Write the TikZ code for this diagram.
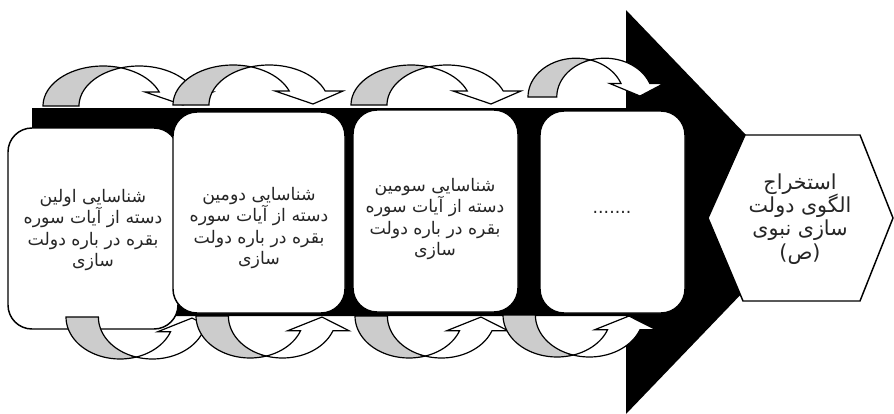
\documentclass[tikz,border=0pt]{standalone}
\usepackage{fontspec}
\setmainfont{DejaVu Sans}
\newfontfamily\arabicfont[Script=Arabic]{DejaVu Sans}
\TeXXeTstate=1
\definecolor{bandgray}{RGB}{204,204,204}
\tikzset{
  box/.style={draw=black, line width=1.1pt, fill=white, rounded corners=18pt, inner sep=0pt},
  lbl/.style={align=center, font=\arabicfont\fontsize{13}{15.8}\selectfont, text=black!85, inner sep=0pt},
  band/.style={draw=black, line width=0.9pt, fill=bandgray},
  face/.style={draw=black, line width=0.9pt, fill=white},
}
\newcommand\ribbonarrow{%
  \filldraw[band] plot[domain=180:287.5,samples=25] ({60+60*cos(\x)},{40*sin(\x)})
     -- plot[domain=252.5:180,samples=25] ({96+60*cos(\x)},{40*sin(\x)}) -- cycle;
  \filldraw[face] plot[domain=252.5:339.5,samples=25] ({96+60*cos(\x)},{40*sin(\x)})
     -- (170,-14) -- (140,-1) -- (102,-14)
     -- plot[domain=339.5:287.5,samples=25] ({60+60*cos(\x)},{40*sin(\x)}) -- cycle;
}
\begin{document}
\setlength{\lineskiplimit}{-30pt}
\begin{tikzpicture}[x=0.75pt,y=-0.75pt]
\useasboundingbox (0,0) rectangle (894,414);
% big black arrow
\fill[black] (32,108) -- (626,108) -- (626,10) -- (820,212) -- (626,414) -- (626,316) -- (32,316) -- cycle;
% boxes
\node[box, minimum width=127.5pt, minimum height=150.75pt] (b1) at (93,228.5) {};
\node[box, minimum width=129pt, minimum height=150.75pt] (b2) at (259,212.5) {};
\node[box, minimum width=123.75pt, minimum height=151.5pt] (b3) at (435.5,211) {};
\node[box, minimum width=108.75pt, minimum height=151.5pt] (b4) at (612.5,212) {};
% hexagon
\filldraw[draw=black, line width=1.1pt, fill=white] (745,135) -- (860,135) -- (893,218) -- (860,301) -- (743,301) -- (708,218) -- cycle;
% top ribbon arrows
\begin{scope}[shift={(43,106)}]\ribbonarrow\end{scope}
\begin{scope}[shift={(173,105)}]\ribbonarrow\end{scope}
\begin{scope}[shift={(351,105)}]\ribbonarrow\end{scope}
\begin{scope}[shift={(528,97)}, xscale=0.8, yscale=0.97]\ribbonarrow\end{scope}
% bottom ribbon arrows
\begin{scope}[shift={(66,317)}, xscale=0.9, yscale=-1.05]\ribbonarrow\end{scope}
\begin{scope}[shift={(196,316)}, xscale=0.9, yscale=-1.05]\ribbonarrow\end{scope}
\begin{scope}[shift={(355,316)}, xscale=0.9, yscale=-1.05]\ribbonarrow\end{scope}
\begin{scope}[shift={(503,315)}, xscale=0.9, yscale=-1.05]\ribbonarrow\end{scope}
% texts
\node[lbl] (t1) at (93,230) {\beginR شناسایی اولین\endR\\\beginR دسته از آیات سوره\endR\\\beginR بقره در باره دولت\endR\\\beginR سازی\endR};
\node[lbl] (t2) at (259,228) {\beginR شناسایی دومین\endR\\\beginR دسته از آیات سوره\endR\\\beginR بقره در باره دولت\endR\\\beginR سازی\endR};
\node[lbl] (t3) at (435,219) {\beginR شناسایی سومین\endR\\\beginR دسته از آیات سوره\endR\\\beginR بقره در باره دولت\endR\\\beginR سازی\endR};
\node[lbl] (t4) at (612,212) {.......};
\node[lbl, font=\arabicfont\fontsize{15.5}{17.5}\selectfont] (t5) at (800,219) {\beginR استخراج\endR\\\beginR الگوی دولت\endR\\\beginR سازی نبوی\endR\\(ص)};
\end{tikzpicture}
\end{document}
